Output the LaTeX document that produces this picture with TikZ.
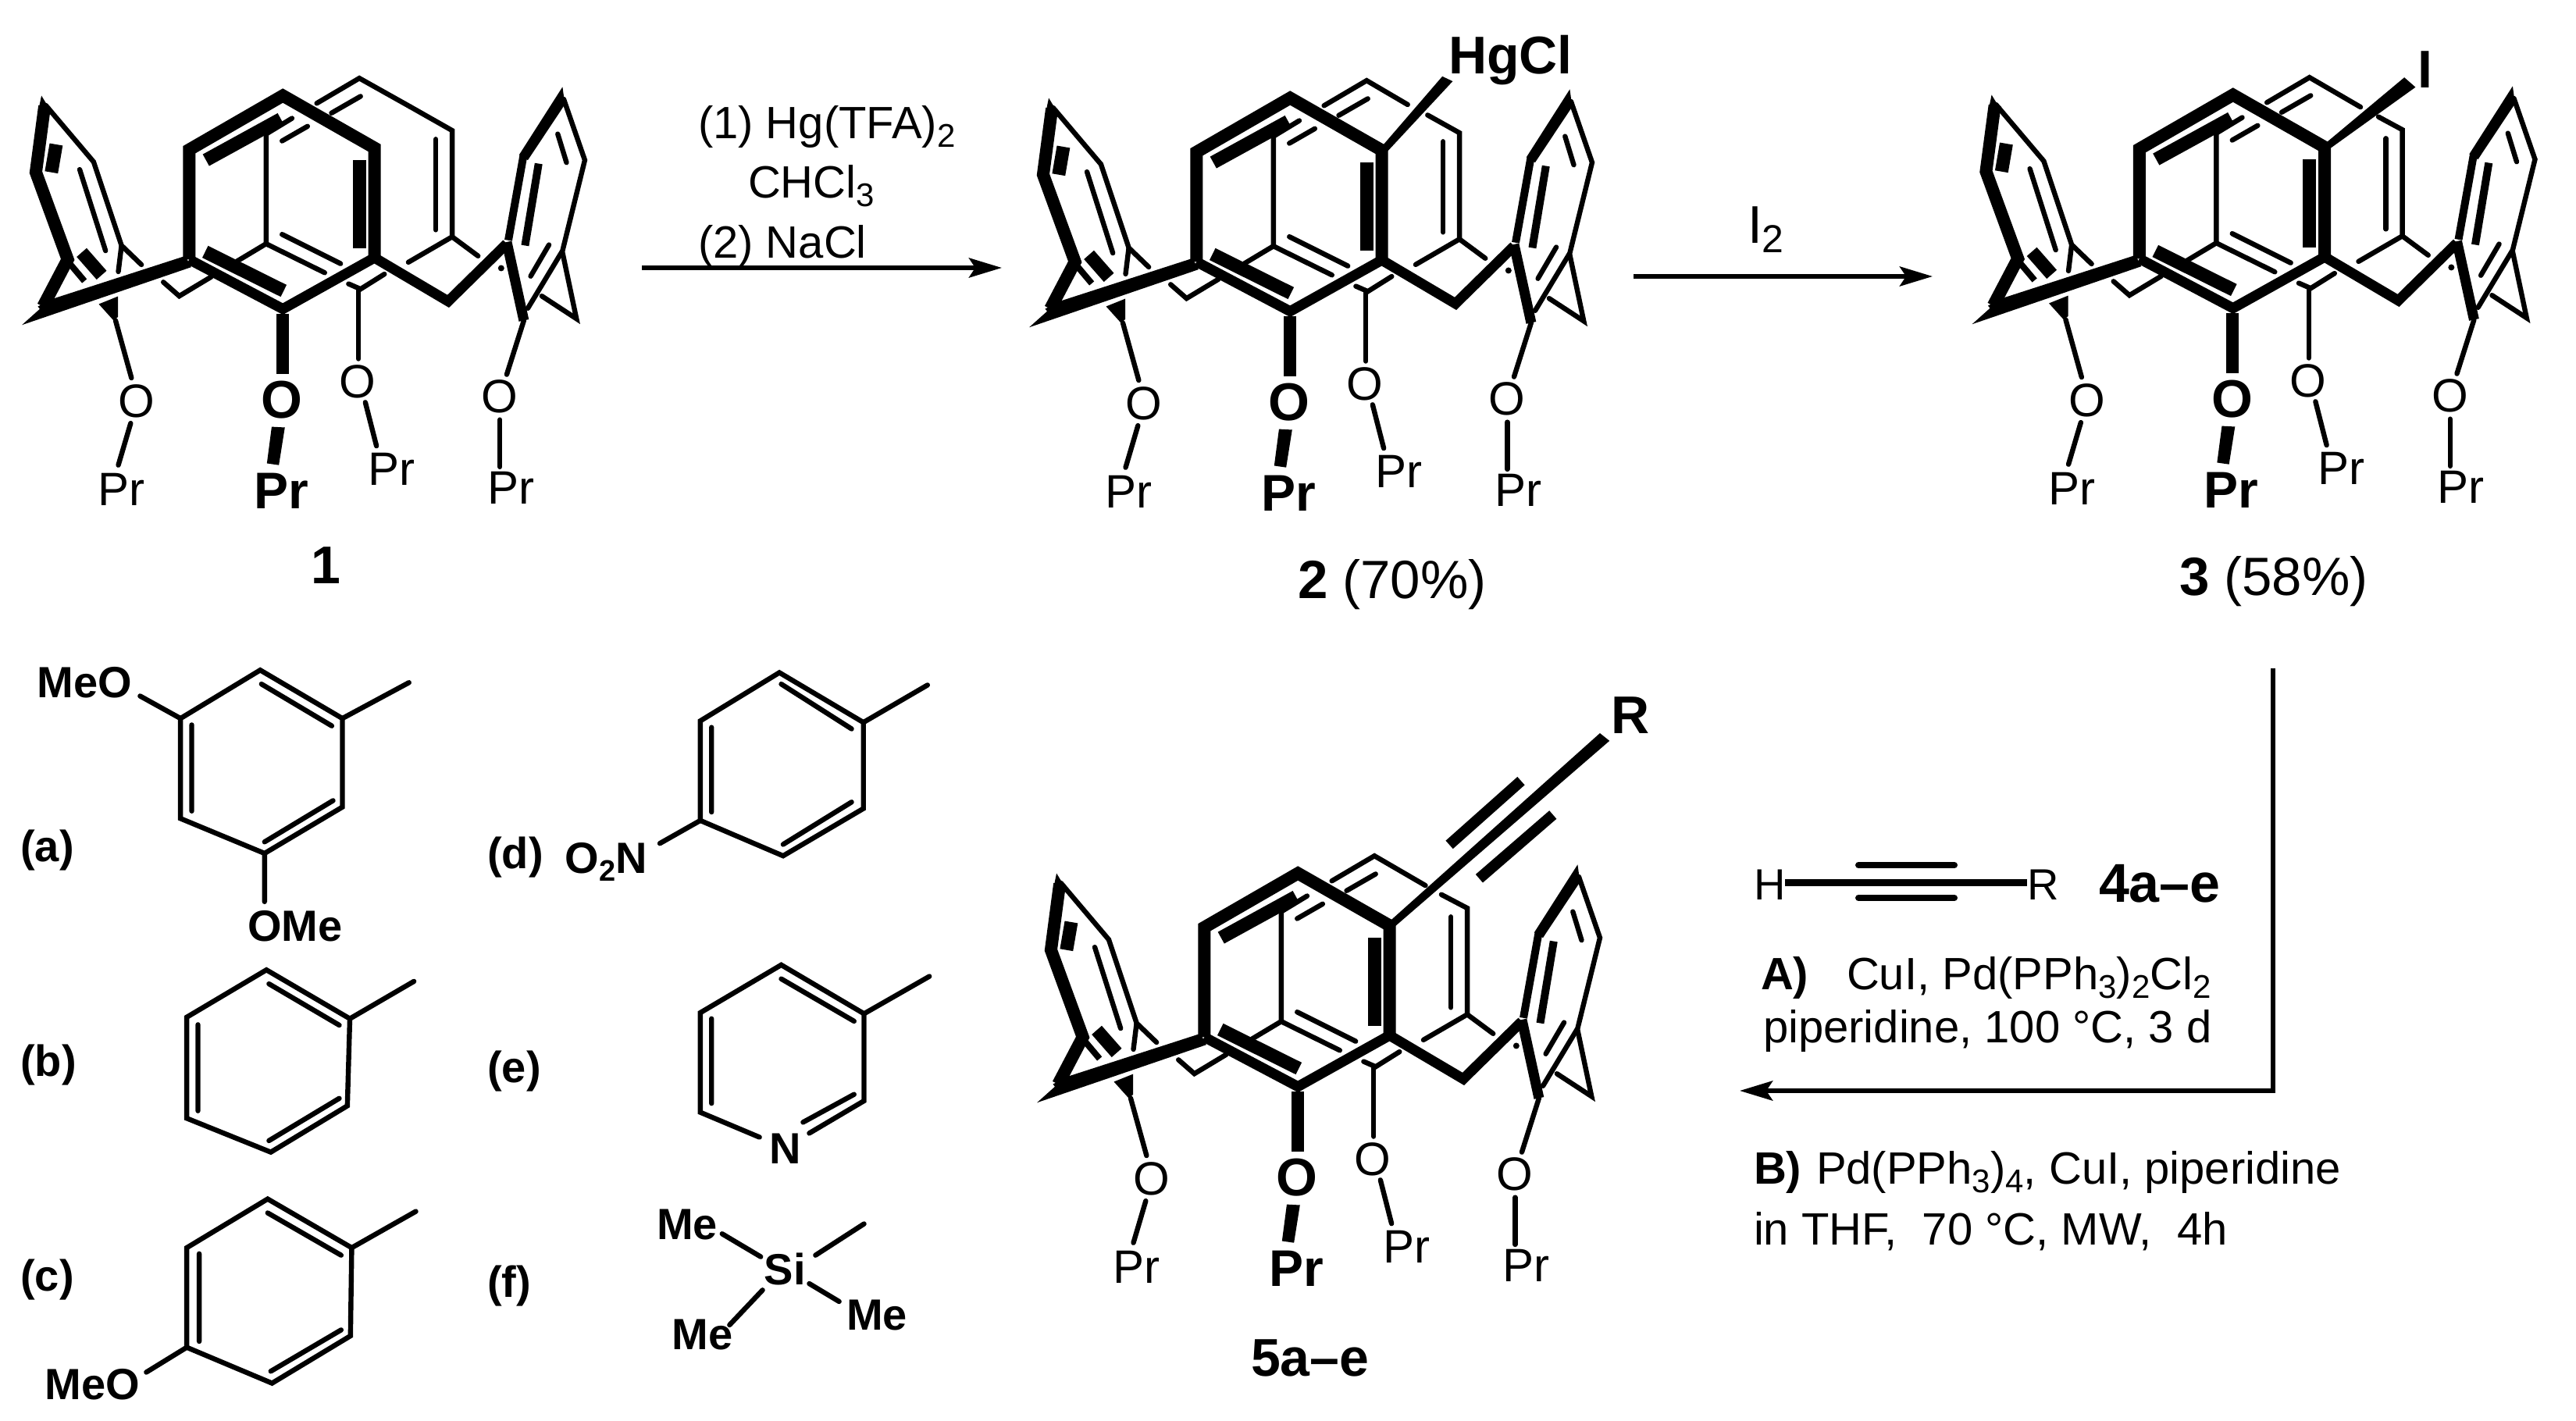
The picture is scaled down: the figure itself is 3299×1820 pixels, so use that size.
\documentclass[tikz,border=0pt]{standalone}
\usepackage{fontspec}
\setmainfont{Liberation Sans}
\usetikzlibrary{arrows.meta}
\newcommand{\fz}[1]{\fontsize{#1}{#1}\selectfont}
\newcommand{\sbs}[1]{\raisebox{-5.5pt}{\fz{21}#1}}
\tikzset{
  thin bond/.style={line width=3.2pt,line cap=round,line join=miter},
  mid bond/.style={line width=5pt,line cap=butt,line join=miter},
  heavy bond/.style={line width=8pt,line cap=butt,line join=miter,miter limit=10},
  bar/.style={line width=8.5pt,line cap=butt},
  sub bond/.style={line width=3.2pt,line cap=round,line join=miter},
  flow/.style={line width=3pt,-{Stealth[length=21pt,width=12.5pt,inset=4pt]}},
  reg/.style={inner sep=0pt,outer sep=0pt,anchor=base west,font=\fz{29}},
  atom/.style={inner sep=0pt,outer sep=0pt,anchor=center,font=\fz{30}},
  boldatom/.style={inner sep=0pt,outer sep=0pt,anchor=center,font=\fz{34}\bfseries},
  pr/.style={inner sep=0pt,outer sep=0pt,anchor=base,font=\fz{30}},
  boldpr/.style={inner sep=0pt,outer sep=0pt,anchor=base,font=\fz{33}\bfseries},
  grp/.style={inner sep=0pt,outer sep=0pt,anchor=base west,font=\fz{28}\bfseries},
  tag/.style={inner sep=0pt,outer sep=0pt,anchor=base west,font=\fz{28}\bfseries},
  big/.style={inner sep=0pt,outer sep=0pt,anchor=base west,font=\fz{34}\bfseries},
}
% #1,#2 offset in reference pixels; #3,#4 ends of the gap in the back bond; #5 name prefix; #6 substituent
\newcommand{\calix}[6]{%
\begin{scope}[xshift=#1*0.5pt,yshift=-#2*0.5pt,x=0.2551pt,y=-0.2232pt]
  % back ring
  \draw[thin bond] (795,162)--(902,90)--(#3);
  \draw[thin bond] (#4)--(1135,240)--(1135,545)--(1025,618);
  \draw[thin bond] (1135,545)--(1200,600);
  \draw[thin bond] (1094,265)--(1094,525);
  \draw[thin bond] (832,190)--(905,142);
  \draw[thin bond] (708,270)--(772,228);
  \draw[thin bond] (733,205)--(668,250)--(668,565)--(595,615);
  \draw[thin bond] (668,565)--(815,648);
  \draw[thin bond] (708,538)--(855,622);
  \draw[thin bond] (875,680)--(905,695)--(965,652);
  \draw[thin bond] (900,695)--(900,895);
  \draw[thin bond] (410,675)--(450,715)--(530,660);
  % front ring
  \draw[heavy bond] (475,610)--(475,295)--(710,140)--(940,290)--(940,612);
  \draw[line width=6.5pt,line join=miter] (940,605)--(710,752)--(475,610);
  \draw[bar] (517,325)--(705,207);
  \draw[bar] (902,325)--(902,578);
  \draw[bar] (515,588)--(712,700);
  \draw[line width=6.5pt,line join=miter] (940,605)--(1125,730)--(1272,565);
  % left ring
  \draw[heavy bond] (112,170)--(90,360)--(170,610)--(108,745);
  \fill (104,140)--(128,185)--(95,190)--cycle;
  \draw[thin bond] (115,168)--(235,330)--(305,570)--(355,625);
  \draw[thin bond] (305,570)--(297,645);
  \draw[thin bond] (200,352)--(265,585);
  \draw[line width=8.5pt] (141,280)--(129,360);
  \draw[line width=8.5pt] (205,590)--(255,655);
  \draw[line width=4pt] (170,615)--(212,672);
  \fill (465,600)--(480,632)--(55,798)--(100,752)--(95,745)--(135,722)--cycle;
  \fill (248,738)--(296,716)--(296,775)--(285,785)--cycle;
  \draw[thin bond] (290,785)--(330,950);
  % right ring
  \fill (1412,115)--(1418,165)--(1325,325)--(1303,310)--cycle;
  \draw[thin bond] (1415,150)--(1468,325)--(1412,585)--(1325,750);
  \draw[thin bond] (1412,590)--(1447,780)--(1360,715);
  \draw[mid bond] (1314,312)--(1276,555);
  \draw[line width=6.5pt] (1272,560)--(1315,785);
  \draw[thin bond] (1315,785)--(1272,940);
  \draw[mid bond] (1352,335)--(1318,570);
  \draw[thin bond] (1400,250)--(1422,332);
  \draw[thin bond] (1378,568)--(1332,658);
  \fill (1258,635) circle[radius=2pt];
  % oxygen arms
  \node[atom] (#5O1) at (343,1017) {O};
  \node[pr] (#5P1) at (305,1315) {Pr};
  \draw[thin bond] (328,1080)--(297,1200);
  \draw[heavy bond] (709,765)--(709,938);
  \node[boldatom] (#5O2) at (708,1012) {O};
  \fill (682,1090)--(715,1092)--(700,1200)--(670,1195)--cycle;
  \node[boldpr] (#5P2) at (706,1325) {Pr};
  \node[atom] (#5O3) at (898,960) {O};
  \draw[thin bond] (917,1020)--(945,1145);
  \node[pr] (#5P3) at (982,1258) {Pr};
  \node[atom] (#5O4) at (1255,1003) {O};
  \draw[thin bond] (1255,1070)--(1255,1205);
  \node[pr] (#5P4) at (1282,1312) {Pr};
  #6
\end{scope}}
\begin{document}
\begin{tikzpicture}[x=0.5pt,y=-0.5pt]
\useasboundingbox (0,0) rectangle (3299,1820);
% calixarenes
\calix{0}{60}{1030,172}{1030,172}{a}{}
\calix{1290}{63}{1005,159}{1055,189}{b}{
  \fill (938,282)--(1092,78)--(1118,92)--(952,296)--cycle;}
\calix{2497.5}{59}{1030,175}{1075,203}{c}{
  \fill (942,279)--(1140,90)--(1168,118)--(956,292)--cycle;}
\calix{1300}{1056}{1030,175}{1070,201}{d}{
  \fill (936,282)--(1468,-262)--(1492,-240)--(954,292)--cycle;
  \draw[line width=7pt] (1090,58)--(1270,-125);
  \draw[line width=7pt] (1165,155)--(1350,-28);}
% compound labels
\node[big] (lab1) at (398,747) {1};
\node[big] (sHg) at (1855,94) {\fz{34}HgCl};
\node[big] (sI) at (3096,112) {I};
\node[big] (sR) at (2063,939) {R};
\node[reg,font=\fz{34.5}] (lab2) at (1662,766) {\bfseries 2\mdseries{} (70\%)};
\node[reg,font=\fz{34.5}] (lab3) at (2791,762) {\bfseries 3\mdseries{} (58\%)};
\node[big] (lab5) at (1602,1762) {5a–e};
% reaction arrows
\coordinate (r1s) at (822,343); \coordinate (r1e) at (1283,343);
\coordinate (r2s) at (2092,354); \coordinate (r2e) at (2475,354);
\coordinate (r3a) at (2911,856); \coordinate (r3b) at (2911,1397); \coordinate (r3c) at (2228,1397);
\draw[flow] (r1s)--(r1e);
\draw[flow] (r2s)--(r2e);
\draw[flow,line join=miter] (r3a)--(r3b)--(r3c);
\node[reg] (t1) at (894,177) {(1) Hg(TFA)\sbs{2}};
\node[reg] (t2) at (958,253) {CHCl\sbs{3}};
\node[reg] (t3) at (894,330) {(2) NaCl};
\node[reg,font=\fz{34}] (t4) at (2238,311) {I\raisebox{-6pt}{\fz{25}2}};
% alkyne reagent
\node[reg,font=\fz{28}] (aH) at (2246,1152) {H};
\node[reg,font=\fz{28}] (aR) at (2596,1152) {R};
\draw[line width=4.5pt] (aH.east|-0,1130)--(aR.west|-0,1130);
\draw[line width=4pt,line cap=round] (2380,1108)--(2503,1108);
\draw[line width=4pt,line cap=round] (2380,1150)--(2503,1150);
\node[big,font=\fz{35}\bfseries] (l4) at (2688,1155) {4a–e};
\node[reg] (cA) at (2255,1267) {\textbf{A)}};
\node[reg] (cA1) at (2365,1267) {CuI, Pd(PPh\sbs{3})\sbs{2}Cl\sbs{2}};
\node[reg] (cA2) at (2258,1335) {piperidine, 100 °C, 3 d};
\node[reg] (cB) at (2246,1516) {\textbf{B)}};
\node[reg] (cB1) at (2326,1516) {Pd(PPh\sbs{3})\sbs{4}, CuI, piperidine};
\node[reg] (cB2) at (2246,1594) {in THF, \ 70 °C, MW, \ 4h};
% substituents
\begin{scope}[yshift=-410pt,x=0.3986pt,y=-0.3189pt]
  % a
  \draw[sub bond] (550,157)--(418,60)--(290,157)--(290,358)--(425,428)--(550,335)--cycle;
  \draw[sub bond] (550,157)--(657,85);
  \draw[sub bond] (420,88)--(533,172) (308,170)--(308,343) (425,405)--(535,322);
  \draw[sub bond] (290,157)--(225,112) (425,428)--(425,525);
  \node[grp] (gMeOa) at (60,115) {MeO};
  \node[grp] (gOMea) at (398,605) {OMe};
  \node[tag] (ta) at (33,445) {(a)};
  % d
  \draw[sub bond] (1387,165)--(1252,65)--(1125,162)--(1125,362)--(1258,433)--(1387,338)--cycle;
  \draw[sub bond] (1387,165)--(1490,90);
  \draw[sub bond] (1255,88)--(1368,178) (1143,175)--(1143,345) (1258,410)--(1368,325);
  \draw[sub bond] (1125,362)--(1060,408);
  \node[grp] (gNO) at (908,468) {O\raisebox{-5pt}{\fz{19}2}N};
  \node[tag] (td) at (783,458) {(d)};
  % b
  \draw[sub bond] (562,760)--(428,662)--(300,757)--(300,960)--(435,1028)--(558,935)--cycle;
  \draw[sub bond] (562,760)--(665,685);
  \draw[sub bond] (432,690)--(545,773) (318,772)--(318,945) (432,1005)--(545,920);
  \node[tag] (tb) at (33,875) {(b)};
  % e
  \draw[sub bond] (1493,675)--(1388,750)--(1255,652)--(1125,748)--(1125,948)--(1220,998);
  \draw[sub bond] (1388,750)--(1388,925)--(1300,990);
  \draw[sub bond] (1255,680)--(1372,765) (1143,760)--(1143,930) (1372,912)--(1290,968);
  \node[grp,anchor=base] (gN) at (1262,1052) {N};
  \node[tag] (te) at (783,888) {(e)};
  % c
  \draw[sub bond] (565,1220)--(430,1122)--(300,1220)--(300,1420)--(437,1492)--(563,1397)--cycle;
  \draw[sub bond] (565,1220)--(668,1147);
  \draw[sub bond] (430,1150)--(548,1235) (320,1232)--(320,1408) (435,1468)--(548,1385);
  \draw[sub bond] (300,1420)--(235,1470);
  \node[grp] (gMeOc) at (72,1525) {MeO};
  \node[tag] (tc) at (33,1307) {(c)};
  % f
  \node[grp] (gSi) at (1228,1295) {Si};
  \node[grp] (gM1) at (1055,1203) {Me};
  \node[grp] (gM2) at (1360,1385) {Me};
  \node[grp] (gM3) at (1080,1425) {Me};
  \draw[sub bond] (1310,1235)--(1388,1172);
  \draw[sub bond] (1160,1192)--(1222,1238);
  \draw[sub bond] (1300,1292)--(1348,1328);
  \draw[sub bond] (1225,1305)--(1172,1375);
  \node[tag] (tf) at (783,1320) {(f)};
\end{scope}
\end{tikzpicture}
\end{document}
